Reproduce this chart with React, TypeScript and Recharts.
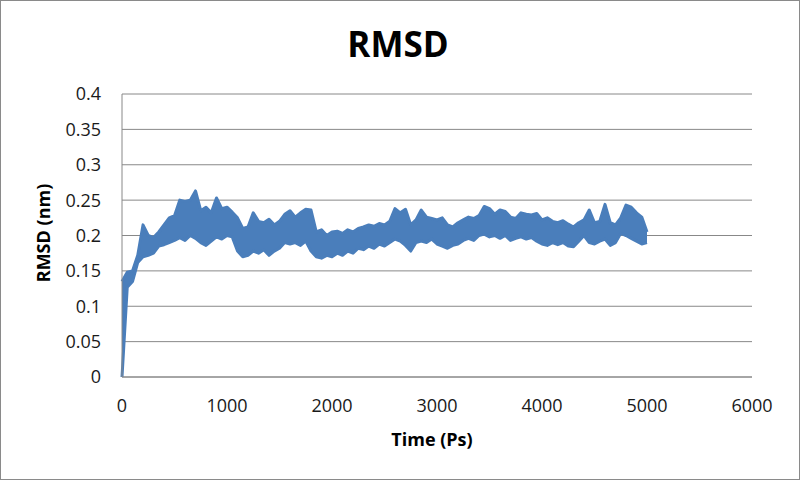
import React from "react";
import { ComposedChart, Area, XAxis, YAxis, CartesianGrid } from "recharts";

const STEP_PS = 50;

// Upper edge of the fluctuating RMSD trace (nm), every 50 ps from 0 to 5000 ps
const rmsdUpper: number[] = [
  0.135, 0.148, 0.15, 0.172, 0.215, 0.2, 0.197, 0.205, 0.215, 0.225,
  0.228, 0.25, 0.248, 0.25, 0.263, 0.235, 0.24, 0.232, 0.253, 0.238,
  0.24, 0.233, 0.225, 0.21, 0.212, 0.232, 0.22, 0.218, 0.223, 0.215,
  0.22, 0.23, 0.235, 0.226, 0.232, 0.237, 0.236, 0.205, 0.208, 0.2,
  0.205, 0.206, 0.203, 0.208, 0.205, 0.21, 0.212, 0.215, 0.213, 0.217,
  0.215, 0.22, 0.238, 0.232, 0.237, 0.215, 0.222, 0.236, 0.226, 0.224,
  0.222, 0.225, 0.215, 0.212, 0.218, 0.222, 0.226, 0.224, 0.228, 0.241,
  0.238, 0.23, 0.236, 0.234, 0.226, 0.224, 0.232, 0.23, 0.229, 0.231,
  0.222, 0.225, 0.22, 0.218, 0.221, 0.216, 0.212, 0.218, 0.222, 0.236,
  0.218, 0.22, 0.244, 0.218, 0.215, 0.225, 0.243, 0.24, 0.232, 0.226,
  0.205,
];

// Lower edge of the fluctuating RMSD trace (nm), same time points
const rmsdLower: number[] = [
  0, 0.127, 0.135, 0.162, 0.17, 0.172, 0.175, 0.185, 0.187, 0.19,
  0.193, 0.197, 0.193, 0.2, 0.196, 0.19, 0.186, 0.192, 0.198, 0.195,
  0.2, 0.198, 0.178, 0.17, 0.172, 0.178, 0.175, 0.18, 0.172, 0.178,
  0.182, 0.19, 0.188, 0.19, 0.186, 0.192, 0.178, 0.17, 0.168, 0.172,
  0.17, 0.175, 0.172, 0.178, 0.175, 0.182, 0.18, 0.185, 0.182, 0.188,
  0.185, 0.19, 0.195, 0.192, 0.186, 0.178, 0.19, 0.192, 0.19, 0.195,
  0.188, 0.185, 0.182, 0.186, 0.188, 0.193, 0.196, 0.193, 0.2, 0.202,
  0.198, 0.2, 0.196, 0.2, 0.193, 0.196, 0.198, 0.195, 0.197, 0.192,
  0.188, 0.186, 0.19, 0.187, 0.19, 0.185, 0.184, 0.192, 0.2, 0.19,
  0.188, 0.192, 0.195, 0.186, 0.19, 0.203, 0.2, 0.196, 0.192, 0.188,
  0.19,
];

const xTicks = [0, 1000, 2000, 3000, 4000, 5000, 6000];
const yTicks = [0, 0.05, 0.1, 0.15, 0.2, 0.25, 0.3, 0.35, 0.4];

const titleText = "RMSD";
const xLabel = "Time (Ps)";
const yLabel = "RMSD (nm)";

const data = rmsdUpper.map((hi, i) => ({
  time: i * STEP_PS,
  range: [rmsdLower[i], hi],
}));

const FONT = "'Open Sans', 'DejaVu Sans', sans-serif";
const GRID = "#888888";
const BLUE = "#4a7ebb";

export default function App() {
  return (
    <div
      style={{
        position: "absolute",
        left: 0,
        top: 0,
        width: 800,
        height: 480,
        border: "1px solid #8a8a8a",
        boxSizing: "border-box",
        background: "#fff",
        overflow: "hidden",
      }}
    >
      <div style={{ position: "absolute", left: -1, top: -1 }}>
        <ComposedChart
          width={800}
          height={480}
          data={data}
          margin={{ top: 94, right: 48, left: 0, bottom: 73 }}
        >
          <CartesianGrid horizontal vertical={false} stroke={GRID} strokeWidth={1} />
          <XAxis
            dataKey="time"
            type="number"
            domain={[0, 6000]}
            ticks={xTicks}
            height={30}
            tickLine={false}
            tickSize={0}
            tickMargin={22}
            axisLine={{ stroke: GRID }}
            tick={{ fontFamily: FONT, fontSize: 18, fill: "#1a1a1a" }}
            interval={0}
          />
          <YAxis
            type="number"
            domain={[0, 0.4]}
            ticks={yTicks}
            width={122}
            tickLine={false}
            tickSize={0}
            tickMargin={21}
            axisLine={{ stroke: GRID }}
            tick={{ fontFamily: FONT, fontSize: 18, fill: "#1a1a1a" }}
            interval={0}
          />
          <Area
            type="linear"
            dataKey="range"
            stroke={BLUE}
            strokeWidth={3}
            strokeLinejoin="round"
            fill={BLUE}
            fillOpacity={1}
            dot={false}
            activeDot={false}
            isAnimationActive={false}
          />
        </ComposedChart>
      </div>
      <svg
        width={800}
        height={480}
        style={{ position: "absolute", left: -1, top: -1, pointerEvents: "none" }}
      >
        <text
          x={398}
          y={57}
          textAnchor="middle"
          fontFamily={FONT}
          fontWeight={700}
          fontSize={35}
          fill="#000"
        >
          {titleText}
        </text>
        <text
          x={432}
          y={446}
          textAnchor="middle"
          fontFamily={FONT}
          fontWeight={700}
          fontSize={18}
          fill="#000"
        >
          {xLabel}
        </text>
        <text
          transform="translate(50,233) rotate(-90)"
          textAnchor="middle"
          fontFamily={FONT}
          fontWeight={700}
          fontSize={18}
          fill="#000"
        >
          {yLabel}
        </text>
      </svg>
    </div>
  );
}
